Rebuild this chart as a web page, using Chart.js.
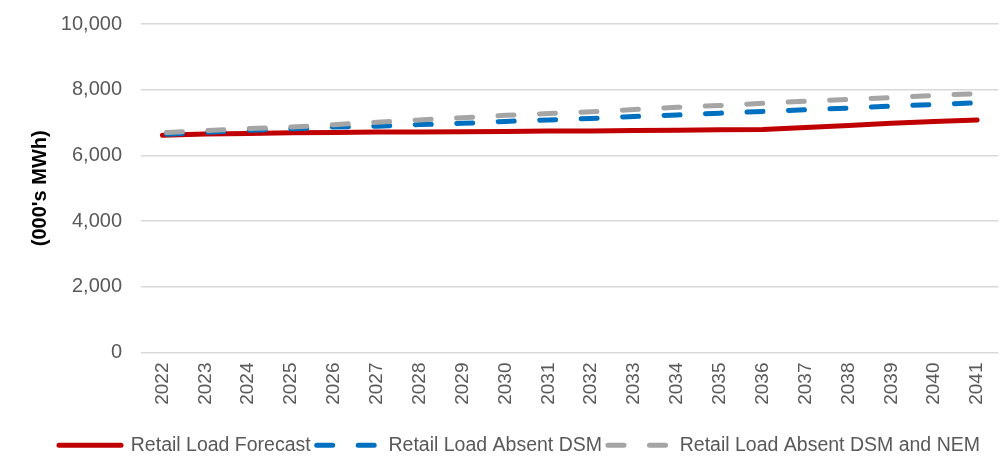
<!DOCTYPE html>
<html>
<head>
<meta charset="utf-8">
<script src="https://cdn.jsdelivr.net/npm/chart.js@4/dist/chart.umd.min.js"></script>
<style>
  html, body { margin: 0; padding: 0; background: #fff; overflow: hidden; }
  #wrap { width: 1010px; height: 465px; }
</style>
</head>
<body>
<div id="wrap"><canvas id="c" width="1010" height="465"></canvas></div>
<script>
const years = ['2022','2023','2024','2025','2026','2027','2028','2029','2030','2031','2032','2033','2034','2035','2036','2037','2038','2039','2040','2041'];
const retailLoadForecast = [6610, 6650, 6670, 6690, 6700, 6710, 6710, 6720, 6730, 6740, 6740, 6755, 6765, 6780, 6790, 6850, 6910, 6980, 7030, 7080];
const retailLoadAbsentDSM = [6640, 6700, 6765, 6810, 6865, 6890, 6940, 6975, 7035, 7080, 7125, 7185, 7230, 7285, 7340, 7390, 7440, 7500, 7550, 7600];
const retailLoadAbsentDSMNEM = [6690, 6755, 6815, 6865, 6935, 7010, 7080, 7145, 7220, 7275, 7330, 7395, 7465, 7520, 7585, 7650, 7705, 7760, 7825, 7880];
const yTicks = [0, 2000, 4000, 6000, 8000, 10000];
const seriesNames = ['Retail Load Forecast', 'Retail Load Absent DSM', 'Retail Load Absent DSM and NEM'];

const FONT = "'Liberation Sans', Arial, sans-serif";
const TXT = '#595959';

new Chart(document.getElementById('c'), {
  type: 'line',
  data: {
    labels: years,
    datasets: [
      { label: seriesNames[0], data: retailLoadForecast, borderColor: '#C00000', backgroundColor: '#C00000',
        borderWidth: 5, borderCapStyle: 'round', borderJoinStyle: 'round', pointRadius: 0, tension: 0, order: 2 },
      { label: seriesNames[1], data: retailLoadAbsentDSM, borderColor: '#0070C0', backgroundColor: '#0070C0',
        borderWidth: 5, borderDash: [16, 25.5], borderDashOffset: -4, borderCapStyle: 'round', pointRadius: 0, tension: 0, order: 1 },
      { label: seriesNames[2], data: retailLoadAbsentDSMNEM, borderColor: '#A5A5A5', backgroundColor: '#A5A5A5',
        borderWidth: 5, borderDash: [16, 25.5], borderDashOffset: -4, borderCapStyle: 'round', pointRadius: 0, tension: 0, order: 0 }
    ]
  },
  options: {
    responsive: false,
    animation: false,
    events: [],
    layout: { padding: { left: 33, right: 4, top: 0, bottom: 0 } },
    scales: {
      x: {
        offset: true,
        grid: { display: false, drawTicks: false },
        border: { display: false },
        ticks: { color: TXT, font: { family: FONT, size: 19 }, minRotation: 90, maxRotation: 90, padding: 10, autoSkip: false },
        afterFit: (s) => { s.height = 77; }
      },
      y: {
        min: 0, max: 10000,
        afterBuildTicks: (s) => { s.ticks = yTicks.map(v => ({ value: v })); },
        grid: { color: '#D9D9D9', lineWidth: 1.5, drawTicks: false },
        border: { display: false },
        ticks: { color: TXT, font: { family: FONT, size: 20, lineHeight: 0.5 }, padding: 19,
                 callback: (v) => Number(v).toLocaleString('en-US') },
        title: { display: true, text: "(000's MWh)", color: '#000', font: { family: FONT, size: 20, weight: 'bold' },
                 padding: { top: -5, bottom: 0 } },
        afterFit: (s) => { s.width = 108; }
      }
    },
    plugins: {
      tooltip: { enabled: false },
      legend: {
        position: 'bottom',
        labels: {
          color: TXT, font: { family: FONT, size: 19.5 },
          usePointStyle: true, pointStyle: 'line', pointStyleWidth: 62,
          padding: 6,
          sort: (a, b) => a.datasetIndex - b.datasetIndex,
          generateLabels: (chart) => {
            const items = Chart.defaults.plugins.legend.labels.generateLabels(chart);
            items.forEach(it => {
              const ds = chart.data.datasets[it.datasetIndex];
              it.lineDash = ds.borderDash || [];
              it.lineDashOffset = 0;
              it.lineCap = 'round';
              it.lineWidth = 5;
              it.strokeStyle = ds.borderColor;
              it.fillStyle = ds.borderColor;
            });
            return items;
          }
        }
      }
    }
  }
});
</script>
</body>
</html>
